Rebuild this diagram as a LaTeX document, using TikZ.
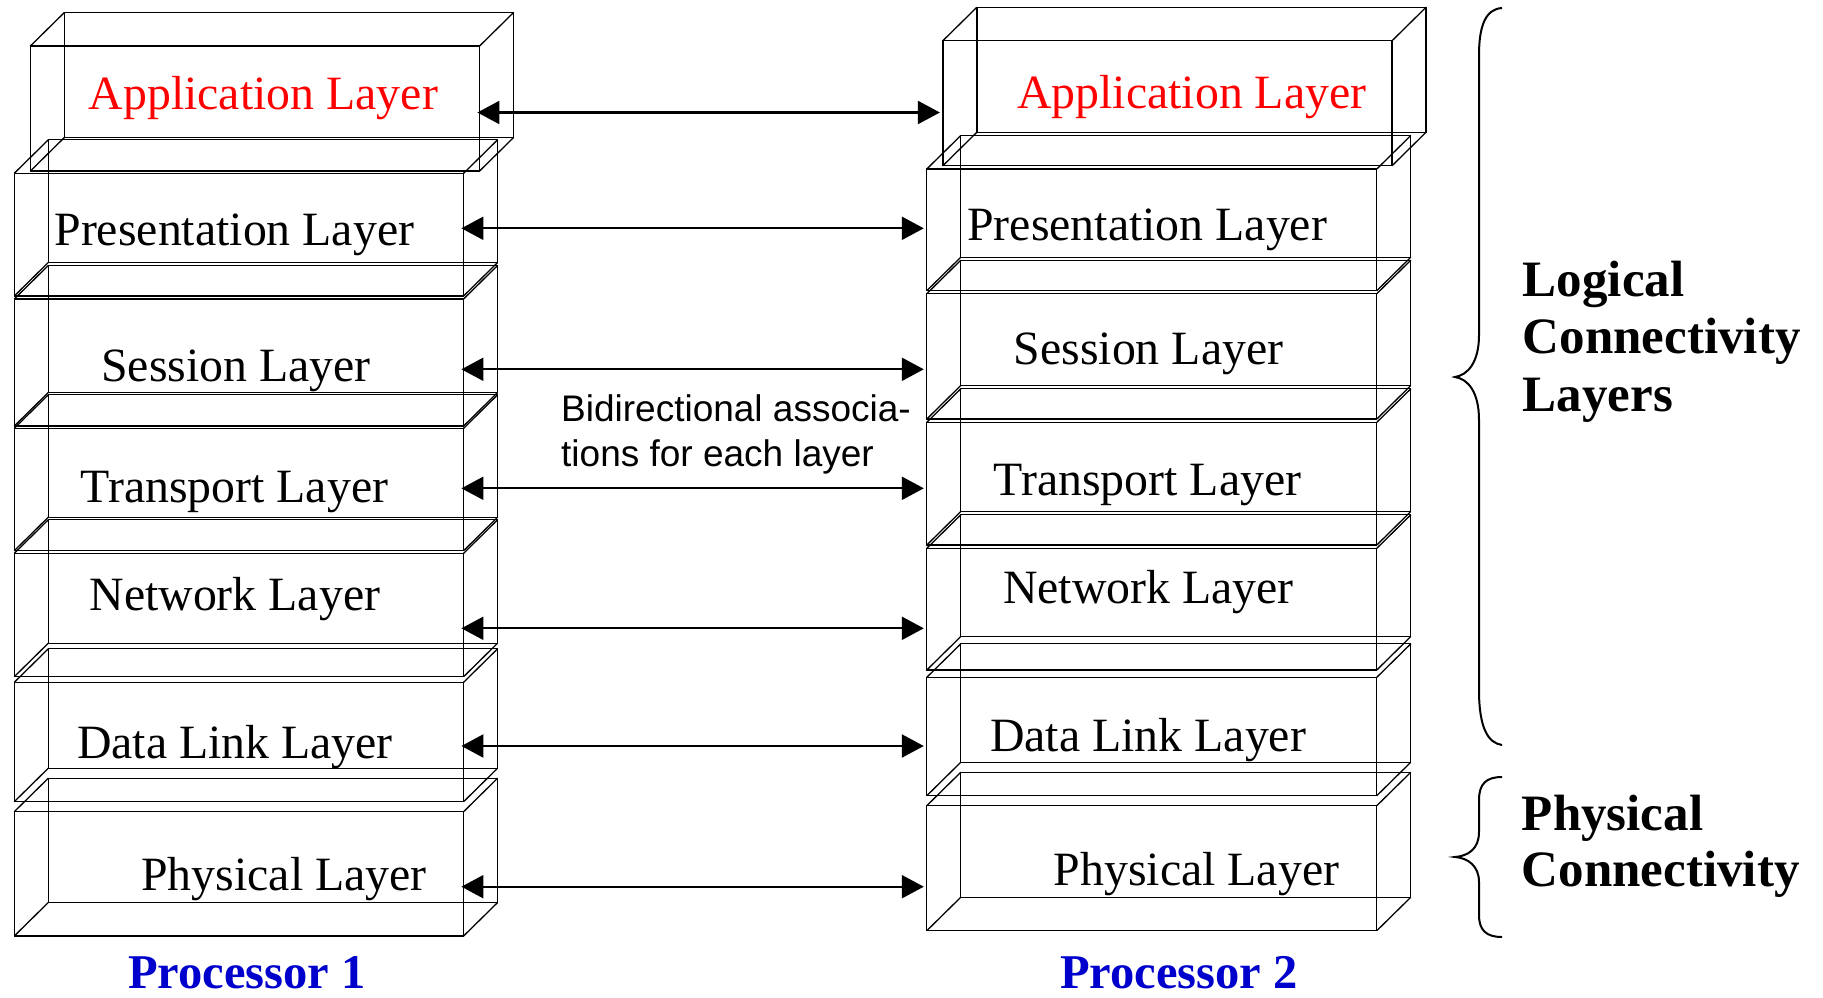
\documentclass[tikz,border=0pt]{standalone}
\usepackage{fontspec}
\setmainfont{Liberation Serif}
\newfontfamily\arialfont{Liberation Sans}
\usetikzlibrary{arrows.meta,fit}
\definecolor{layerred}{RGB}{255,0,0}
\definecolor{procblue}{RGB}{0,0,204}

% one wireframe slab: name, front face corners (x1,y1) (x2,y2)
\newcommand\layerslab[5]{%
  \node[face, fit={(#2,#3) (#4,#5)}] (#1) {};
  \draw[edge] ([shift={(34,-33.5)}]#1.north west) rectangle ([shift={(34,-33.5)}]#1.south east);
  \foreach \c in {north west,north east,south west,south east}
    \draw[edge] (#1.\c) -- ++(34,-33.5);
}

\begin{document}
\begin{tikzpicture}[x=1pt,y=-1pt,
  face/.style={draw, line width=1.3pt, inner sep=0pt, outer sep=0pt},
  edge/.style={line width=1.3pt},
  link/.style={line width=2.2pt, shorten >=3pt, shorten <=-2.2pt,
    {Triangle[length=22pt,width=23pt]}-{Triangle[length=22pt,width=23pt]}},
  layertext/.style={anchor=base west, inner sep=0pt, font=\fontsize{47.8}{52}\selectfont},
  sidetext/.style={anchor=base west, inner sep=0pt, font=\bfseries\fontsize{51}{57}\selectfont},
  proctext/.style={anchor=base west, inner sep=0pt, text=procblue, font=\bfseries\fontsize{48.5}{52}\selectfont},
  notetext/.style={anchor=base west, inner sep=0pt, font=\arialfont\fontsize{37}{44}\selectfont},
  brace/.style={line width=2pt}]
\useasboundingbox (0,0) rectangle (1823,998);

% Processor 1 stack
\layerslab{LApp}{30.4}{46}{479.6}{171}
\layerslab{LPre}{14.3}{173.3}{463.6}{296}
\layerslab{LSes}{14.3}{299}{463.6}{426}
\layerslab{LTra}{14.3}{428.3}{463.6}{550.7}
\layerslab{LNet}{14.3}{553.3}{463.6}{676.7}
\layerslab{LDat}{14.3}{682.3}{463.6}{801.7}
\layerslab{LPhy}{14.3}{811.7}{463.6}{936}

% Processor 2 stack
\layerslab{RApp}{942.9}{40.7}{1392.1}{165.7}
\layerslab{RPre}{926.8}{169}{1376.8}{290.7}
\layerslab{RSes}{926.8}{293.7}{1376.8}{419}
\layerslab{RTra}{926.8}{422.3}{1376.8}{545}
\layerslab{RNet}{926.8}{548.3}{1376.8}{670}
\layerslab{RDat}{926.8}{677.3}{1376.8}{795.7}
\layerslab{RPhy}{926.8}{805.7}{1376.8}{930.7}

% layer names
\node[layertext, text=layerred] (tLApp) at (88.6,109.3) {Application Layer};
\node[layertext] (tLPre) at (54.3,245) {Presentation Layer};
\node[layertext] (tLSes) at (101.1,381) {Session Layer};
\node[layertext] (tLTra) at (80.4,502.3) {Transport Layer};
\node[layertext] (tLNet) at (89.3,610) {Network Layer};
\node[layertext] (tLDat) at (76.8,758.3) {Data Link Layer};
\node[layertext] (tLPhy) at (141.1,890) {Physical Layer};

\node[layertext, text=layerred] (tRApp) at (1017.1,108.5) {Application Layer};
\node[layertext] (tRPre) at (967.1,240) {Presentation Layer};
\node[layertext] (tRSes) at (1013.6,364) {Session Layer};
\node[layertext] (tRTra) at (993.6,495) {Transport Layer};
\node[layertext] (tRNet) at (1002.9,603.3) {Network Layer};
\node[layertext] (tRDat) at (990,751.7) {Data Link Layer};
\node[layertext] (tRPhy) at (1053.6,885) {Physical Layer};

% peer-to-peer links
\draw[link] (LApp.east |- 0,112.5) -- (RApp.west |- 0,112.5);
\draw[link] (LPre.east |- 0,228.3) -- (RPre.west |- 0,228.3);
\draw[link] (LSes.east |- 0,369.3) -- (RSes.west |- 0,369.3);
\draw[link] (LTra.east |- 0,488.3) -- (RTra.west |- 0,488.3);
\draw[link] (LNet.east |- 0,628.3) -- (RNet.west |- 0,628.3);
\draw[link] (LDat.east |- 0,746) -- (RDat.west |- 0,746);
\draw[link] (LPhy.east |- 0,886.7) -- (RPhy.west |- 0,886.7);

\node[notetext] (note1) at (561,421.7) {Bidirectional associa-};
\node[notetext] (note2) at (561,466) {tions for each layer};

% processor captions
\node[proctext] (proc1) at (127.9,988.5) {Processor 1};
\node[proctext] (proc2) at (1060,988.5) {Processor 2};

% braces
\draw[brace] (1502,8) .. controls (1486,9) and (1479,25) .. (1479,55)
  -- (1479,335) .. controls (1479,362) and (1468,375) .. (1455,377)
  .. controls (1468,379) and (1479,392) .. (1479,420)
  -- (1479,690) .. controls (1479,728) and (1488,743) .. (1502,745);
\draw[brace] (1502,777) .. controls (1486,777) and (1479,784) .. (1479,800)
  -- (1479,832) .. controls (1479,849) and (1468,856) .. (1455,857)
  .. controls (1468,858) and (1479,866) .. (1479,882)
  -- (1479,915) .. controls (1479,930) and (1486,937) .. (1502,937);

\node[sidetext] (log1) at (1522.7,296.7) {Logical};
\node[sidetext] (log2) at (1522.7,353.3) {Connectivity};
\node[sidetext] (log3) at (1522.7,411.7) {Layers};
\node[sidetext] (phy1) at (1521.7,830) {Physical};
\node[sidetext] (phy2) at (1521.7,886.7) {Connectivity};
\end{tikzpicture}
\end{document}
